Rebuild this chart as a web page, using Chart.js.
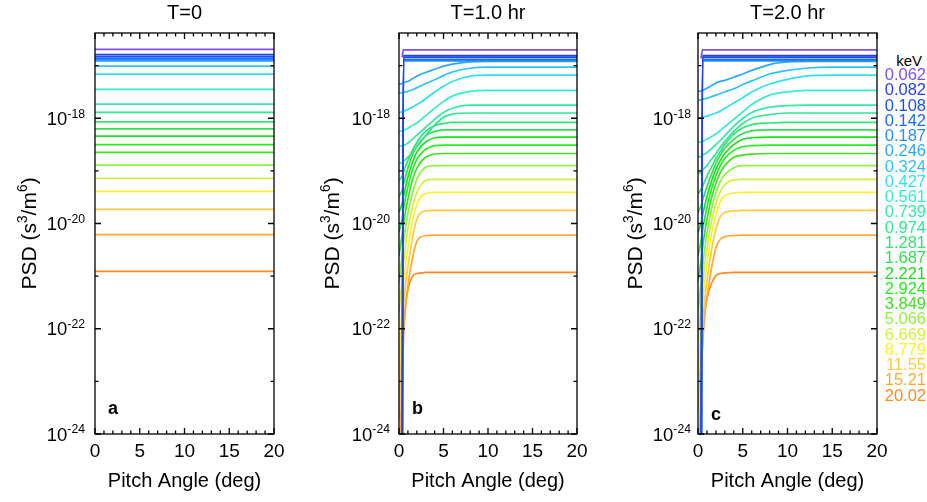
<!DOCTYPE html>
<html>
<head>
<meta charset="utf-8">
<script src="https://cdn.jsdelivr.net/npm/chart.js@4.4.0/dist/chart.umd.min.js"></script>
<style>
  body { margin: 0; background: #fff; width: 927px; height: 502px; overflow: hidden; position: relative;
         font-family: "Liberation Sans", Arial, sans-serif; }
  canvas { position: absolute; top: 0; }
  .lab { position: absolute; right: 1px; font-size: 16.5px; line-height: 18px; white-space: nowrap; }
</style>
</head>
<body>
<canvas id="ca" width="300" height="502" style="left:0"></canvas>
<canvas id="cb" width="300" height="502" style="left:300px"></canvas>
<canvas id="cc" width="290" height="502" style="left:600px"></canvas>
<div id="legend"></div>
<script>
// energies (keV) and the colour used for each curve
const energies = ['0.062', '0.082', '0.108', '0.142', '0.187', '0.246', '0.324', '0.427', '0.561', '0.739', '0.974',
                  '1.281', '1.687', '2.221', '2.924', '3.849', '5.066', '6.669', '8.779', '11.55', '15.21', '20.02'];
const lineColors = ['#7d4ff0', '#2440f0', '#1852f5', '#1a6ef6', '#2a8ef6', '#2aaaf6', '#2cc4f4', '#30e2f0', '#32f0cc',
                    '#32eca6', '#30e890', '#30e670', '#30e050', '#1ce01c', '#26ee20', '#40e020', '#92f040', '#d2f040',
                    '#fff030', '#ffcc40', '#ffaa30', '#ff8a20'];

// pitch angle (deg)
const pitchT0 = [0, 20];
const pitchGrid = [0, 0.35, 0.5, 0.75, 1, 1.5, 2, 2.5, 3, 4, 5, 6, 8, 10, 12, 15, 20];

// log10 PSD (s^3/m^6)
const logPsdT0 = [-16.69, -16.79, -16.83, -16.86, -16.89, -16.91, -17.01, -17.16, -17.45, -17.73, -17.89,
                  -18.07, -18.20, -18.34, -18.50, -18.65, -18.89, -19.14, -19.39, -19.73, -20.21, -20.91];

const logPsdT1 = [
  [null, -16.84, -16.70, -16.70, -16.70, -16.70, -16.70, -16.70, -16.70, -16.70, -16.70, -16.70, -16.70, -16.70, -16.70, -16.70, -16.70],
  [null, -26, -16.81, -16.81, -16.81, -16.81, -16.81, -16.81, -16.81, -16.81, -16.81, -16.81, -16.81, -16.81, -16.81, -16.81, -16.81],
  [null, -26, -16.84, -16.84, -16.84, -16.84, -16.84, -16.84, -16.84, -16.84, -16.84, -16.84, -16.84, -16.84, -16.84, -16.84, -16.84],
  [null, -26, -16.88, -16.88, -16.88, -16.88, -16.88, -16.88, -16.88, -16.88, -16.88, -16.88, -16.88, -16.88, -16.88, -16.88, -16.88],
  [null, -26, -16.91, -16.91, -16.91, -16.91, -16.91, -16.91, -16.91, -16.91, -16.91, -16.91, -16.91, -16.91, -16.91, -16.91, -16.91],
  [-17.35, -17.34, -17.33, -17.31, -17.30, -17.25, -17.20, -17.16, -17.13, -17.07, -17.01, -16.97, -16.93, -16.92, -16.92, -16.92, -16.92],
  [-17.52, -17.51, -17.50, -17.50, -17.49, -17.46, -17.42, -17.38, -17.34, -17.27, -17.19, -17.12, -17.05, -17.03, -17.03, -17.03, -17.03],
  [-17.89, -17.88, -17.87, -17.85, -17.83, -17.79, -17.74, -17.69, -17.63, -17.50, -17.39, -17.30, -17.20, -17.18, -17.18, -17.18, -17.18],
  [-18.25, -18.24, -18.23, -18.21, -18.19, -18.14, -18.09, -18.02, -17.95, -17.81, -17.68, -17.58, -17.49, -17.47, -17.47, -17.47, -17.47],
  [-18.53, -18.52, -18.51, -18.50, -18.47, -18.40, -18.32, -18.25, -18.17, -18.02, -17.89, -17.81, -17.75, -17.75, -17.75, -17.75, -17.75],
  [-18.86, -18.84, -18.82, -18.78, -18.74, -18.65, -18.54, -18.44, -18.33, -18.13, -17.98, -17.92, -17.90, -17.90, -17.90, -17.90, -17.90],
  [-19.18, -19.10, -19.03, -18.91, -18.80, -18.61, -18.46, -18.34, -18.25, -18.14, -18.10, -18.08, -18.08, -18.08, -18.08, -18.08, -18.08],
  [-19.49, -19.37, -19.26, -19.10, -18.95, -18.70, -18.53, -18.42, -18.33, -18.25, -18.22, -18.22, -18.22, -18.22, -18.22, -18.22, -18.22],
  [-19.79, -19.62, -19.49, -19.30, -19.12, -18.84, -18.65, -18.53, -18.45, -18.37, -18.36, -18.36, -18.36, -18.36, -18.36, -18.36, -18.36],
  [-20.17, -19.90, -19.73, -19.50, -19.31, -18.99, -18.78, -18.67, -18.59, -18.52, -18.51, -18.51, -18.51, -18.51, -18.51, -18.51, -18.51],
  [-20.61, -20.21, -20.02, -19.75, -19.54, -19.18, -18.95, -18.82, -18.74, -18.68, -18.67, -18.67, -18.67, -18.67, -18.67, -18.67, -18.67],
  [-21.12, -20.61, -20.36, -20.06, -19.81, -19.43, -19.16, -19.01, -18.93, -18.90, -18.90, -18.90, -18.90, -18.90, -18.90, -18.90, -18.90],
  [-21.70, -21.05, -20.76, -20.40, -20.11, -19.70, -19.41, -19.26, -19.18, -19.16, -19.16, -19.16, -19.16, -19.16, -19.16, -19.16, -19.16],
  [-22.99, -21.47, -21.16, -20.76, -20.46, -19.96, -19.64, -19.48, -19.43, -19.41, -19.41, -19.41, -19.41, -19.41, -19.41, -19.41, -19.41],
  [-23.75, -21.94, -21.56, -21.12, -20.82, -20.29, -19.92, -19.79, -19.76, -19.75, -19.75, -19.75, -19.75, -19.75, -19.75, -19.75, -19.75],
  [-26, -22.51, -22.04, -21.52, -21.18, -20.67, -20.34, -20.25, -20.23, -20.22, -20.22, -20.22, -20.22, -20.22, -20.22, -20.22, -20.22],
  [-26, -23.09, -22.19, -21.56, -21.26, -21.01, -20.95, -20.94, -20.93, -20.93, -20.93, -20.93, -20.93, -20.93, -20.93, -20.93, -20.93]
];

const logPsdT2 = [
  [null, -16.86, -16.70, -16.70, -16.70, -16.70, -16.70, -16.70, -16.70, -16.70, -16.70, -16.70, -16.70, -16.70, -16.70, -16.70, -16.70],
  [null, -26, -16.81, -16.81, -16.81, -16.81, -16.81, -16.81, -16.81, -16.81, -16.81, -16.81, -16.81, -16.81, -16.81, -16.81, -16.81],
  [null, -26, -16.84, -16.84, -16.84, -16.84, -16.84, -16.84, -16.84, -16.84, -16.84, -16.84, -16.84, -16.84, -16.84, -16.84, -16.84],
  [null, -26, -16.88, -16.88, -16.88, -16.88, -16.88, -16.88, -16.88, -16.88, -16.88, -16.88, -16.88, -16.88, -16.88, -16.88, -16.88],
  [null, -26, -16.91, -16.91, -16.91, -16.91, -16.91, -16.91, -16.91, -16.91, -16.91, -16.91, -16.91, -16.91, -16.91, -16.91, -16.91],
  [-17.49, -17.48, -17.47, -17.45, -17.43, -17.38, -17.33, -17.30, -17.28, -17.22, -17.16, -17.09, -16.98, -16.93, -16.92, -16.92, -16.92],
  [-17.66, -17.65, -17.64, -17.63, -17.62, -17.59, -17.56, -17.53, -17.50, -17.44, -17.36, -17.29, -17.16, -17.09, -17.05, -17.03, -17.03],
  [-18.00, -17.99, -17.98, -17.97, -17.96, -17.93, -17.90, -17.86, -17.81, -17.71, -17.61, -17.50, -17.35, -17.26, -17.20, -17.18, -17.18],
  [-18.46, -18.45, -18.44, -18.42, -18.40, -18.35, -18.30, -18.23, -18.16, -18.02, -17.88, -17.74, -17.56, -17.50, -17.47, -17.47, -17.47],
  [-18.74, -18.72, -18.70, -18.68, -18.65, -18.58, -18.50, -18.42, -18.33, -18.15, -18.00, -17.89, -17.79, -17.76, -17.75, -17.75, -17.75],
  [-19.05, -19.02, -18.99, -18.94, -18.90, -18.78, -18.67, -18.55, -18.44, -18.25, -18.10, -18.00, -17.93, -17.90, -17.90, -17.90, -17.90],
  [-19.43, -19.35, -19.30, -19.20, -19.10, -18.93, -18.77, -18.63, -18.50, -18.30, -18.18, -18.12, -18.09, -18.08, -18.08, -18.08, -18.08],
  [-19.79, -19.66, -19.56, -19.43, -19.30, -19.07, -18.86, -18.70, -18.57, -18.40, -18.29, -18.24, -18.22, -18.22, -18.22, -18.22, -18.22],
  [-20.17, -19.98, -19.85, -19.66, -19.49, -19.20, -18.97, -18.80, -18.67, -18.50, -18.40, -18.37, -18.36, -18.36, -18.36, -18.36, -18.36],
  [-20.61, -20.32, -20.15, -19.90, -19.70, -19.35, -19.09, -18.90, -18.76, -18.61, -18.54, -18.52, -18.51, -18.51, -18.51, -18.51, -18.51],
  [-21.09, -20.70, -20.48, -20.17, -19.92, -19.52, -19.24, -19.03, -18.90, -18.74, -18.70, -18.68, -18.67, -18.67, -18.67, -18.67, -18.67],
  [-21.66, -21.12, -20.84, -20.48, -20.19, -19.73, -19.41, -19.20, -19.07, -18.94, -18.90, -18.90, -18.90, -18.90, -18.90, -18.90, -18.90],
  [-22.23, -21.52, -21.20, -20.78, -20.48, -19.96, -19.62, -19.39, -19.26, -19.17, -19.16, -19.16, -19.16, -19.16, -19.16, -19.16, -19.16],
  [-22.90, -21.94, -21.56, -21.10, -20.76, -20.21, -19.83, -19.58, -19.47, -19.42, -19.41, -19.41, -19.41, -19.41, -19.41, -19.41, -19.41],
  [-23.56, -22.42, -21.96, -21.45, -21.09, -20.51, -20.11, -19.87, -19.79, -19.76, -19.75, -19.75, -19.75, -19.75, -19.75, -19.75, -19.75],
  [-26, -22.84, -22.32, -21.75, -21.41, -20.86, -20.46, -20.30, -20.25, -20.23, -20.22, -20.22, -20.22, -20.22, -20.22, -20.22, -20.22],
  [-26, -23.09, -22.32, -21.71, -21.43, -21.14, -20.99, -20.95, -20.94, -20.93, -20.93, -20.93, -20.93, -20.93, -20.93, -20.93, -20.93]
];

// axis ticks
const xTickLabels = [0, 5, 10, 15, 20];
const yTickExps = [-24, -22, -20, -18];
const yMinExp = -24, yMaxExp = -16.38;

const FONT = '"Liberation Sans", Arial, sans-serif';

// text with superscript pieces: parts = [[text, isSup], ...]
function drawRich(ctx, parts, x, y, size, align) {
    const supSize = size * 0.66;
    let total = 0;
    const widths = parts.map(([t, s]) => {
        ctx.font = (s ? supSize : size) + 'px ' + FONT;
        const w = ctx.measureText(t).width;
        total += w;
        return w;
    });
    let cx = align === 'right' ? x - total : align === 'center' ? x - total / 2 : x;
    const base = y + size * 0.36;
    ctx.textAlign = 'left';
    ctx.textBaseline = 'alphabetic';
    parts.forEach(([t, s], i) => {
        ctx.font = (s ? supSize : size) + 'px ' + FONT;
        ctx.fillText(t, cx, s ? base - size * 0.4 : base);
        cx += widths[i];
    });
}

// box, inward ticks, tick labels, titles
const decor = {
    id: 'decor',
    afterDraw(chart, args, opts) {
        const { ctx, chartArea: a, scales: { x, y } } = chart;
        ctx.save();
        ctx.strokeStyle = '#000';
        ctx.lineWidth = 1.3;
        ctx.strokeRect(a.left, a.top, a.right - a.left, a.bottom - a.top);
        ctx.beginPath();
        for (let v = 0; v <= 20; v++) {
            const px = x.getPixelForValue(v), len = v % 5 === 0 ? 6 : 3.5;
            ctx.moveTo(px, a.bottom); ctx.lineTo(px, a.bottom - len);
            ctx.moveTo(px, a.top); ctx.lineTo(px, a.top + len);
        }
        for (let e = -24; e <= -17; e++) {
            const py = y.getPixelForValue(10 ** e), len = e % 2 === 0 ? 6 : 3.5;
            ctx.moveTo(a.left, py); ctx.lineTo(a.left + len, py);
            ctx.moveTo(a.right, py); ctx.lineTo(a.right - len, py);
        }
        ctx.stroke();

        ctx.fillStyle = '#000';
        ctx.font = '19px ' + FONT;
        ctx.textAlign = 'center';
        ctx.textBaseline = 'middle';
        xTickLabels.forEach(v => ctx.fillText(String(v), x.getPixelForValue(v), a.bottom + 18));
        yTickExps.forEach(e => drawRich(ctx, [['10', false], [String(e), true]], a.left - opts.yTickGap, y.getPixelForValue(10 ** e), 18.5, 'right'));

        const cx = (a.left + a.right) / 2;
        ctx.font = '20px ' + FONT;
        ctx.textAlign = 'center';
        ctx.textBaseline = 'middle';
        ctx.fillText(opts.title, cx, 13);
        ctx.fillText('Pitch Angle (deg)', cx, 481);

        ctx.save();
        ctx.translate(a.left - opts.yTitleGap, (a.top + a.bottom) / 2);
        ctx.rotate(-Math.PI / 2);
        drawRich(ctx, [['PSD (s', false], ['3', true], ['/m', false], ['6', true], [')', false]], 0, 0, 21, 'center');
        ctx.restore();

        ctx.font = 'bold 18px ' + FONT;
        ctx.textAlign = 'left';
        ctx.textBaseline = 'alphabetic';
        ctx.fillText(opts.letter, a.left + 13, opts.letterBase);
        ctx.restore();
    }
};

function buildSets(xs, rows) {
    return rows.map((row, i) => ({
        data: xs.map((px, j) => ({ x: px, y: row[j] === null ? null : 10 ** row[j] })),
        borderColor: lineColors[i],
        borderWidth: 1.7,
        pointRadius: 0,
        fill: false,
        cubicInterpolationMode: 'monotone',
        spanGaps: false
    }));
}

function makePanel(id, datasets, opts) {
    return new Chart(document.getElementById(id), {
        type: 'line',
        data: { datasets },
        plugins: [decor],
        options: {
            responsive: false,
            animation: false,
            events: [],
            layout: { padding: opts.padding },
            plugins: { legend: { display: false }, tooltip: { enabled: false }, decor: opts },
            scales: {
                x: { type: 'linear', min: 0, max: 20, display: false },
                y: { type: 'logarithmic', min: 10 ** yMinExp, max: 10 ** yMaxExp, display: false }
            }
        }
    });
}

makePanel('ca', buildSets(pitchT0, logPsdT0.map(v => [v, v])), {
    padding: { left: 95, right: 26, top: 33, bottom: 68 },
    title: 'T=0', letter: 'a', letterBase: 414, yTickGap: 10, yTitleGap: 67
});
makePanel('cb', buildSets(pitchGrid, logPsdT1), {
    padding: { left: 99, right: 23, top: 33, bottom: 68 },
    title: 'T=1.0 hr', letter: 'b', letterBase: 414, yTickGap: 9, yTitleGap: 68
});
makePanel('cc', buildSets(pitchGrid, logPsdT2), {
    padding: { left: 98, right: 13, top: 33, bottom: 68 },
    title: 'T=2.0 hr', letter: 'c', letterBase: 420, yTickGap: 7, yTitleGap: 64
});

// energy legend on the right
const legend = document.getElementById('legend');
const head = document.createElement('div');
head.className = 'lab';
head.textContent = 'keV';
head.style.cssText = 'top:52px;right:5px;color:#000;font-size:15px';
legend.appendChild(head);
energies.forEach((e, i) => {
    const d = document.createElement('div');
    d.className = 'lab';
    d.textContent = e;
    d.style.top = (74 + i * 15.27 - 9) + 'px';
    d.style.color = lineColors[i];
    legend.appendChild(d);
});
</script>
</body>
</html>
